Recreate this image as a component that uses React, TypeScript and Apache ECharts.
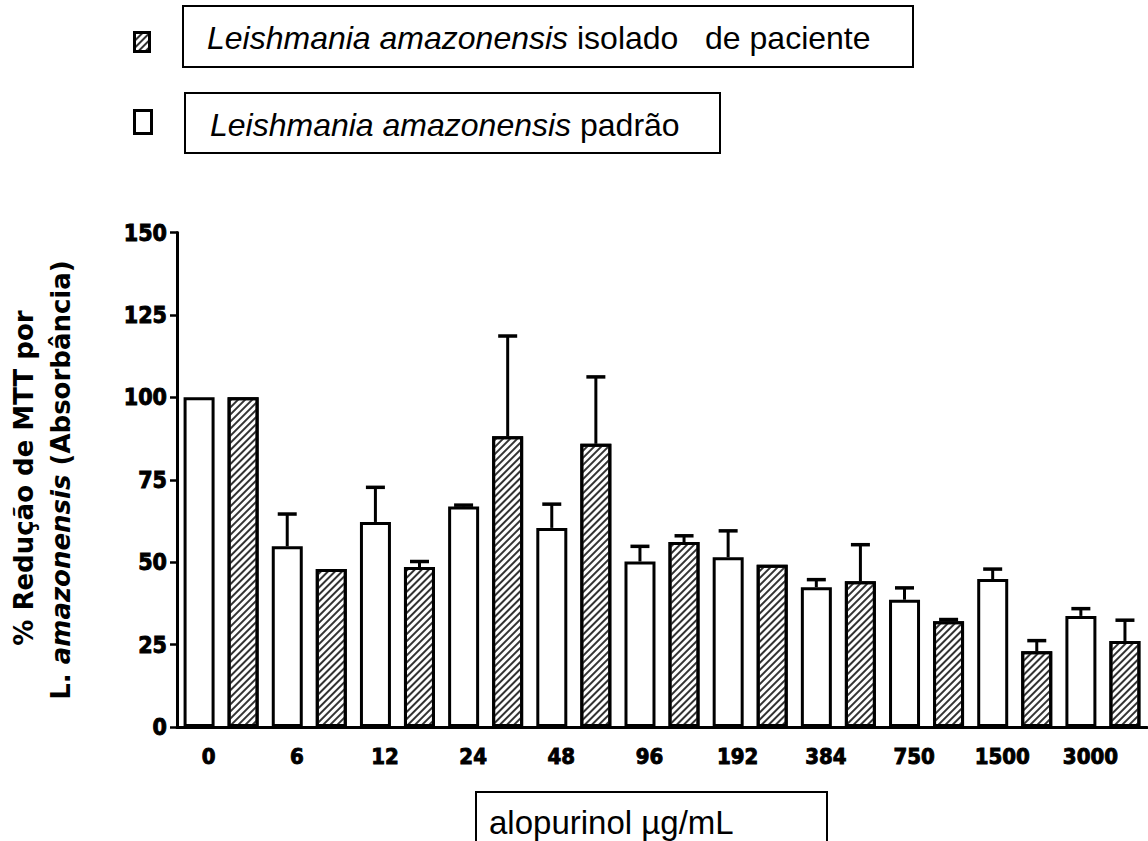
import React, { useEffect, useRef } from 'react';
import * as echarts from 'echarts';

const categories = ['0', '6', '12', '24', '48', '96', '192', '384', '750', '1500', '3000'];
const padrao = [100, 54.8, 62.2, 66.9, 60.4, 50.2, 51.5, 42.4, 38.6, 44.9, 33.7];
const padraoErr = [0, 9.8, 10.5, 0.4, 7.2, 4.6, 8.0, 2.3, 3.6, 3.0, 2.2];
const isolado = [100, 47.9, 48.5, 88.2, 85.9, 56.1, 49.2, 44.2, 32.1, 23.0, 26.1];
const isoladoErr = [0, 0, 1.7, 30.4, 20.3, 1.9, 0, 11.1, 0.5, 3.2, 6.3];

const NAME_PADRAO = 'Leishmania amazonensis padrão';
const NAME_ISOLADO = 'Leishmania amazonensis isolado de paciente';

const hatch = {
  symbol: 'rect',
  symbolSize: 1,
  dashArrayX: [1, 0],
  dashArrayY: [1.6, 3],
  rotation: -Math.PI / 4,
  color: '#333',
};

const NUM_FONT = '"Liberation Sans Narrow", "DejaVu Sans Condensed", sans-serif';
const TXT_FONT = '"Liberation Sans", Arial, sans-serif';

function makeErr(vals: number[], errs: number[], sign: number) {
  return {
    type: 'custom',
    silent: true,
    z: 5,
    encode: { x: 0, y: 2 },
    data: vals.map((v, i) => [i, v, v + errs[i]]),
    renderItem: (params: any, api: any) => {
      const i = api.value(0);
      const v = api.value(1);
      const hi = api.value(2);
      if (hi - v <= 0) return { type: 'group', children: [] };
      const band = api.size([1, 0])[0];
      const base = api.coord([i, v]);
      const top = api.coord([i, hi]);
      const x = base[0] + (sign * band) / 4;
      return {
        type: 'group',
        children: [
          { type: 'line', shape: { x1: x, y1: base[1], x2: x, y2: top[1] }, style: { stroke: '#000', lineWidth: 3 } },
          { type: 'line', shape: { x1: x - 9.5, y1: top[1], x2: x + 9.5, y2: top[1] }, style: { stroke: '#000', lineWidth: 3.5 } },
        ],
      };
    },
  };
}

export default function App() {
  const ref = useRef<HTMLDivElement>(null);
  useEffect(() => {
    if (!ref.current) return;
    const chart = echarts.init(ref.current, undefined, { renderer: 'svg' });
    chart.setOption({
      animation: false,
      backgroundColor: '#fff',
      grid: { left: 177, right: 1, top: 232.5, bottom: 114, containLabel: false, outerBoundsMode: 'none' },
      legend: [
        {
          data: [{ name: NAME_ISOLADO, icon: 'rect' }],
          left: 133,
          top: 31,
          padding: 0,
          itemWidth: 15,
          itemHeight: 19,
          selectedMode: false,
          formatter: () => '',
          itemStyle: { borderWidth: 3, borderColor: '#000' },
        },
        {
          data: [{ name: NAME_PADRAO, icon: 'rect' }],
          left: 133,
          top: 109,
          padding: 0,
          itemWidth: 17,
          itemHeight: 23,
          selectedMode: false,
          formatter: () => '',
          itemStyle: { borderWidth: 3, borderColor: '#000', color: '#fff' },
        },
      ],
      xAxis: {
        type: 'category',
        data: categories,
        axisLine: { lineStyle: { color: '#000', width: 3 } },
        axisTick: { show: false },
        axisLabel: {
          margin: 18,
          color: '#000',
          fontFamily: NUM_FONT,
          fontWeight: 'bold',
          fontSize: 22,
          textBorderColor: '#000',
          textBorderWidth: 0.9,
          padding: [0, 25, 0, 0],
        },
      },
      yAxis: {
        type: 'value',
        min: 0,
        max: 150,
        interval: 25,
        splitLine: { show: false },
        axisLine: { show: true, lineStyle: { color: '#000', width: 3 } },
        axisTick: { show: true, length: 7, lineStyle: { color: '#000', width: 2.5 } },
        axisLabel: {
          margin: 10,
          color: '#000',
          fontFamily: NUM_FONT,
          fontWeight: 'bold',
          fontSize: 23,
          textBorderColor: '#000',
          textBorderWidth: 0.9,
        },
      },
      series: [
        {
          name: NAME_PADRAO,
          type: 'bar',
          data: padrao,
          barWidth: 31,
          barGap: '42%',
          itemStyle: { color: '#fff', borderColor: '#000', borderWidth: 3 },
        },
        {
          name: NAME_ISOLADO,
          type: 'bar',
          data: isolado,
          barWidth: 31,
          barGap: '42%',
          itemStyle: { color: '#fff', borderColor: '#000', borderWidth: 3, decal: hatch },
        },
        makeErr(padrao, padraoErr, -1),
        makeErr(isolado, isoladoErr, 1),
      ],
      graphic: [
        { type: 'rect', shape: { x: 183, y: 6, width: 730, height: 61 }, style: { fill: 'none', stroke: '#000', lineWidth: 2 } },
        { type: 'rect', shape: { x: 185, y: 93, width: 535, height: 60 }, style: { fill: 'none', stroke: '#000', lineWidth: 2 } },
        { type: 'rect', shape: { x: 476, y: 792, width: 351, height: 70 }, style: { fill: 'none', stroke: '#000', lineWidth: 2 } },
        {
          type: 'text',
          x: 207,
          y: 38,
          style: {
            text: '{i|Leishmania amazonensis} isolado   de paciente',
            font: `32px ${TXT_FONT}`,
            fill: '#000',
            textAlign: 'left',
            textVerticalAlign: 'middle',
            rich: { i: { fontStyle: 'italic', fontSize: 32, fontFamily: TXT_FONT } },
          },
        },
        {
          type: 'text',
          x: 210,
          y: 125,
          style: {
            text: '{i|Leishmania amazonensis} padrão',
            font: `32px ${TXT_FONT}`,
            fill: '#000',
            textAlign: 'left',
            textVerticalAlign: 'middle',
            rich: { i: { fontStyle: 'italic', fontSize: 32, fontFamily: TXT_FONT } },
          },
        },
        {
          type: 'text',
          x: 489,
          y: 822,
          style: {
            text: 'alopurinol µg/mL',
            font: `33px ${TXT_FONT}`,
            fill: '#000',
            textAlign: 'left',
            textVerticalAlign: 'middle',
          },
        },
        {
          type: 'text',
          x: 24,
          y: 478,
          rotation: Math.PI / 2,
          style: {
            text: '% Redução de MTT por',
            font: 'bold 26px "DejaVu Sans", sans-serif',
            fill: '#000',
            textAlign: 'center',
            textVerticalAlign: 'middle',
          },
        },
        {
          type: 'text',
          x: 61,
          y: 480,
          rotation: Math.PI / 2,
          style: {
            text: '{n|L. }{i|amazonensis}{n| (Absorbância)}',
            font: 'bold 26px "DejaVu Sans", sans-serif',
            fill: '#000',
            textAlign: 'center',
            textVerticalAlign: 'middle',
            rich: {
              n: { fontWeight: 'bold', fontSize: 26, fontFamily: '"DejaVu Sans", sans-serif' },
              i: { fontWeight: 'bold', fontStyle: 'italic', fontSize: 26, fontFamily: '"DejaVu Sans", sans-serif' },
            },
          },
        },
      ],
    });
    return () => chart.dispose();
  }, []);
  return <div ref={ref} style={{ position: 'fixed', left: 0, top: 0, width: 1148, height: 841 }} />;
}
